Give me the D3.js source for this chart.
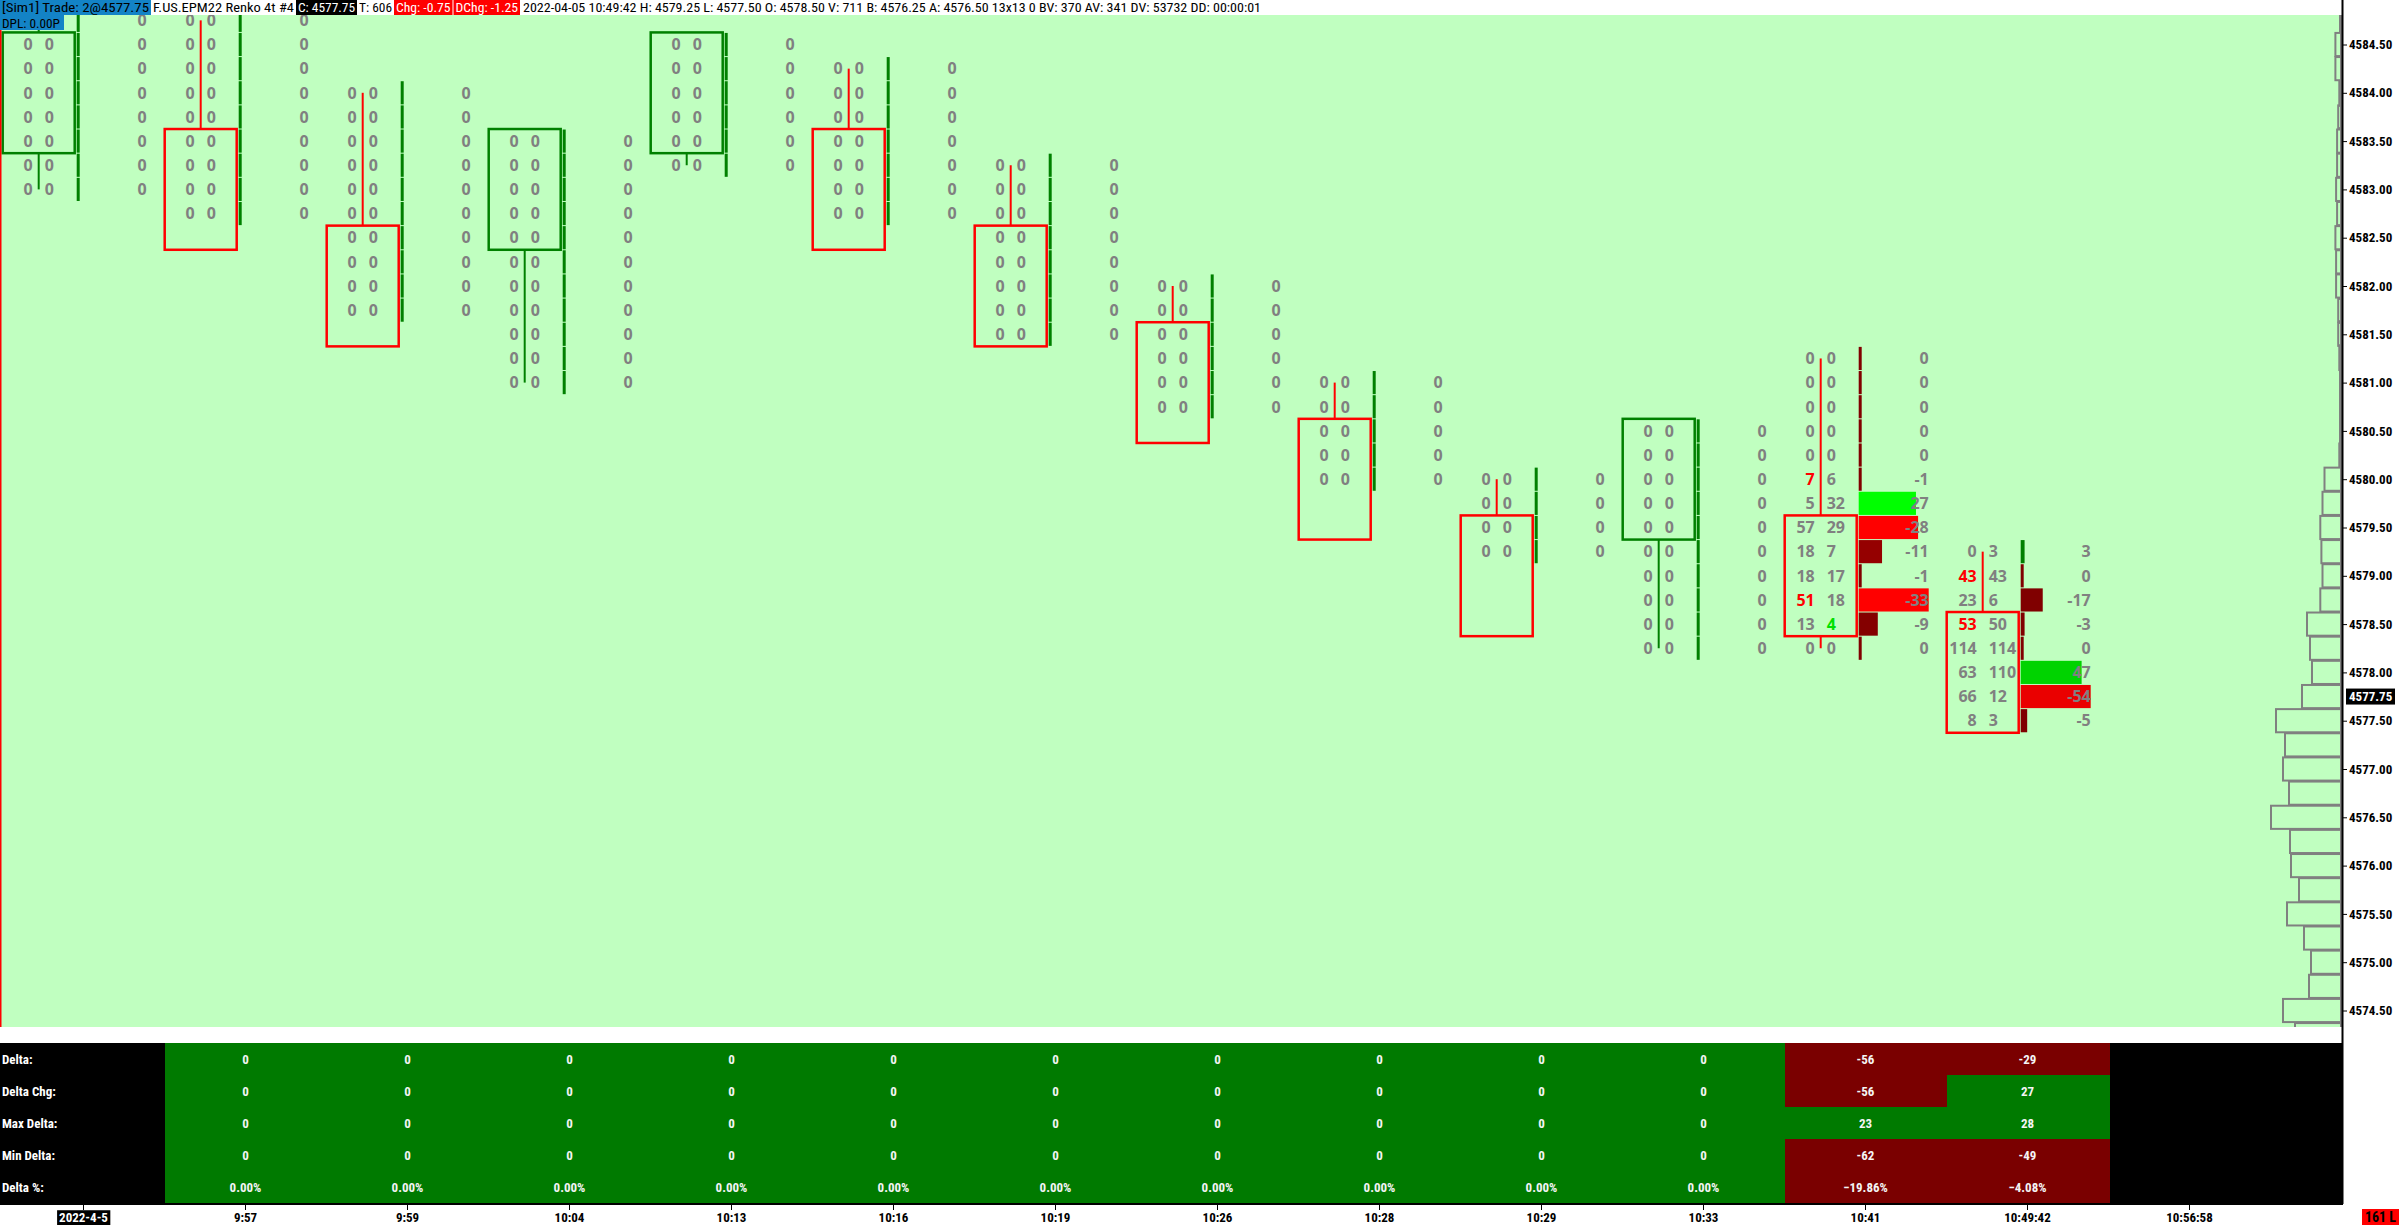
<!DOCTYPE html>
<html>
<head>
<meta charset="utf-8">
<script src="https://cdn.jsdelivr.net/npm/d3@7"></script>
<style>
  html, body { margin: 0; padding: 0; background: #fff; }
  svg { display: block; }
  .num { font-family: "Open Sans", "Liberation Sans", sans-serif; font-weight: 700; font-size: 16px; }
  .lbl { font-family: "Liberation Sans Narrow", "Roboto Condensed", "Liberation Sans", sans-serif; font-weight: 700; font-size: 13px; }
  .hdr { font-family: "Liberation Sans Narrow", "Roboto Condensed", "Liberation Sans", sans-serif; font-size: 13px; }
</style>
</head>
<body>
<div id="chart"></div>
<script>
// ---- data ----
var barLabels = ["2022-4-5", "9:57", "9:59", "10:04", "10:13", "10:16", "10:19", "10:26", "10:28", "10:29", "10:33", "10:41", "10:49:42", "10:56:58"];

var barHigh  = [4584.75, 4584.75, 4584.00, 4583.50, 4584.50, 4584.25, 4583.25, 4582.00, 4581.00, 4580.00, 4580.50, 4581.25, 4579.25];
var barLow   = [4583.00, 4582.75, 4581.75, 4581.00, 4583.25, 4582.75, 4581.50, 4580.75, 4580.00, 4579.25, 4578.25, 4578.25, 4577.50];
var barOpen  = [4583.50, 4583.50, 4582.50, 4582.50, 4583.50, 4583.50, 4582.50, 4581.50, 4580.50, 4579.50, 4579.50, 4579.50, 4578.50];
var barClose = [4584.50, 4582.50, 4581.50, 4583.50, 4584.50, 4582.50, 4581.50, 4580.50, 4579.50, 4578.50, 4580.50, 4578.50, 4577.50];

// bid / ask volume per price row, from high down to low
var barBid = [
  [0, 0, 0, 0, 0, 0, 0, 0],
  [0, 0, 0, 0, 0, 0, 0, 0, 0],
  [0, 0, 0, 0, 0, 0, 0, 0, 0, 0],
  [0, 0, 0, 0, 0, 0, 0, 0, 0, 0, 0],
  [0, 0, 0, 0, 0, 0],
  [0, 0, 0, 0, 0, 0, 0],
  [0, 0, 0, 0, 0, 0, 0, 0],
  [0, 0, 0, 0, 0, 0],
  [0, 0, 0, 0, 0],
  [0, 0, 0, 0],
  [0, 0, 0, 0, 0, 0, 0, 0, 0, 0],
  [0, 0, 0, 0, 0, 7, 5, 57, 18, 18, 51, 13, 0],
  [0, 43, 23, 53, 114, 63, 66, 8]
];
var barAsk = [
  [0, 0, 0, 0, 0, 0, 0, 0],
  [0, 0, 0, 0, 0, 0, 0, 0, 0],
  [0, 0, 0, 0, 0, 0, 0, 0, 0, 0],
  [0, 0, 0, 0, 0, 0, 0, 0, 0, 0, 0],
  [0, 0, 0, 0, 0, 0],
  [0, 0, 0, 0, 0, 0, 0],
  [0, 0, 0, 0, 0, 0, 0, 0],
  [0, 0, 0, 0, 0, 0],
  [0, 0, 0, 0, 0],
  [0, 0, 0, 0],
  [0, 0, 0, 0, 0, 0, 0, 0, 0, 0],
  [0, 0, 0, 0, 0, 6, 32, 29, 7, 17, 18, 4, 0],
  [3, 43, 6, 50, 114, 110, 12, 3]
];

// study table, bars 2..13 (first column holds the row names)
var tableNames = ["Delta:", "Delta Chg:", "Max Delta:", "Min Delta:", "Delta %:"];
var maxDelta = [0, 0, 0, 0, 0, 0, 0, 0, 0, 0, 23, 28];
var minDelta = [0, 0, 0, 0, 0, 0, 0, 0, 0, 0, -62, -49];

// session volume profile on the right edge, 4584.75 down to 4574.25
var profileTop = 4584.75;
var profileVol = [10, 56, 56, 17, 28, 39, 39, 49, 39, 56, 49, 49, 28, 28, 17, 10, 10, 10, 17,
  165, 185, 207, 196, 185, 207, 340, 310, 290, 390, 650, 560, 580, 520, 700, 510, 500,
  420, 540, 370, 300, 320, 580, 460];

var priceTicks = d3.range(4574.5, 4584.51, 0.5);
var lastPrice = 4577.75;

// ---- layout ----
var width = 2400, height = 1225;
var plotTop = 15, plotBottom = 1027, plotRight = 2342;
var tableTop = 1043, tableRowH = 32;
var axisY = 1204;
var tickSize = 0.25;
var dplBox = {w: 64, h: 30};   // "DPL" tag sits over the top-left corner of the plot

var svg = d3.select("#chart").append("svg")
  .attr("width", width)
  .attr("height", height);

var y = d3.scaleLinear().domain([4574.5, 4584.5]).range([1010.5, 44.5]);
var rowH = y(4574.5) - y(4574.75);

var x = d3.scaleBand().domain(barLabels).range([2.5, 2.5 + 162 * barLabels.length]);

/* plot background */
svg.append("rect")
  .attr("x", 0).attr("y", plotTop)
  .attr("width", plotRight).attr("height", plotBottom - plotTop)
  .attr("fill", "#c0ffc0");

svg.append("clipPath").attr("id", "plotclip")
  .append("rect")
  .attr("x", 0).attr("y", plotTop)
  .attr("width", plotRight).attr("height", plotBottom - plotTop);

var plot = svg.append("g").attr("clip-path", "url(#plotclip)");

/* volume profile at right */
var vScale = d3.scaleLinear().domain([0, d3.max(profileVol)]).range([0, 70]);
plot.append("g").selectAll("rect")
  .data(profileVol).enter()
  .append("rect")
  .attr("x", d => plotRight - 1 - vScale(d))
  .attr("y", (d, i) => y(profileTop - i * tickSize) - rowH / 2 + 0.5)
  .attr("width", d => vScale(d))
  .attr("height", rowH - 1)
  .attr("fill", "#c0ffc0")
  .attr("stroke", "#808080")
  .attr("stroke-width", 2);

/* footprint bars */
var shade = d3.scaleLinear().domain([0.03, 0.085]).range([0, 1]).clamp(true);
var gray = "#808080";

barHigh.forEach(function(high, i) {
  var wick = x(barLabels[i]) + 36.2;
  var up = barClose[i] > barOpen[i];
  var col = up ? "#008000" : "#ff0000";
  var rows = barBid[i].map(function(b, j) {
    return {p: high - j * tickSize, bid: b, ask: barAsk[i][j], delta: barAsk[i][j] - b};
  });
  var vol = d3.sum(rows, r => r.bid + r.ask);
  var total = d3.sum(rows, r => r.delta);
  var maxAbs = d3.max(rows, r => Math.abs(r.delta));
  var g = plot.append("g");

  var boxTop = y(Math.max(barOpen[i], barClose[i])) - rowH / 2;
  var boxBot = y(Math.min(barOpen[i], barClose[i])) + rowH / 2;

  // wick outside the box only
  if (y(high) < boxTop)
    g.append("line").attr("x1", wick).attr("x2", wick)
      .attr("y1", y(high)).attr("y2", boxTop)
      .attr("stroke", col).attr("stroke-width", 2);
  if (y(barLow[i]) > boxBot)
    g.append("line").attr("x1", wick).attr("x2", wick)
      .attr("y1", boxBot).attr("y2", y(barLow[i]))
      .attr("stroke", col).attr("stroke-width", 2);

  g.append("rect")
    .attr("x", wick - 36).attr("y", boxTop)
    .attr("width", 72).attr("height", boxBot - boxTop)
    .attr("fill", "none").attr("stroke", col).attr("stroke-width", 2.5);

  // delta profile bars
  g.selectAll(".dp").data(rows).enter()
    .append("rect")
    .attr("x", wick + 38)
    .attr("y", r => y(r.p) - rowH / 2 + 0.5)
    .attr("height", rowH - 1)
    .attr("width", r => maxAbs > 0 ? Math.max(3, Math.abs(r.delta) / maxAbs * 70) : 3)
    .attr("fill", function(r) {
      var t = vol > 0 ? shade(Math.abs(r.delta) / vol) : 0;
      if (r.delta > 0) return d3.interpolateRgb("#008000", "#00ff00")(t);
      if (r.delta < 0) return d3.interpolateRgb("#800000", "#ff0000")(t);
      return total < 0 ? "#800000" : "#008000";
    });

  // bid x ask numbers (hidden where the DPL tag covers them), diagonal imbalance 3:1
  var shown = rows.map((r, j) => j).filter(j => !(y(rows[j].p) < dplBox.h && wick < dplBox.w));
  var cells = shown.map(j => Object.assign({j: j}, rows[j]));

  g.selectAll(".bid").data(cells).enter()
    .append("text").attr("class", "num")
    .attr("x", wick - 6).attr("y", r => y(r.p)).attr("dy", "0.36em")
    .attr("text-anchor", "end")
    .attr("fill", function(r) {
      if (r.j === 0 || r.bid === 0) return gray;
      return r.bid >= 3 * rows[r.j - 1].ask ? "#ff0000" : gray;
    })
    .text(r => r.bid);

  g.selectAll(".ask").data(cells).enter()
    .append("text").attr("class", "num")
    .attr("x", wick + 6).attr("y", r => y(r.p)).attr("dy", "0.36em")
    .attr("text-anchor", "start")
    .attr("fill", function(r) {
      if (r.j === rows.length - 1 || r.ask === 0) return gray;
      return r.ask >= 3 * rows[r.j + 1].bid ? "#00e000" : gray;
    })
    .text(r => r.ask);

  g.selectAll(".dl").data(rows).enter()
    .append("text").attr("class", "num")
    .attr("x", wick + 108).attr("y", r => y(r.p)).attr("dy", "0.36em")
    .attr("text-anchor", "end")
    .attr("fill", gray)
    .text(r => r.delta);
});

/* left red edge */
svg.append("line")
  .attr("x1", 0.75).attr("x2", 0.75).attr("y1", plotTop).attr("y2", plotBottom)
  .attr("stroke", "#ff0000").attr("stroke-width", 1.5);

/* price axis */
var yAxis = d3.axisRight(y).tickValues(priceTicks).tickSize(5).tickPadding(2)
  .tickFormat(d3.format(".2f"));
var ya = svg.append("g").attr("transform", `translate(${plotRight},0)`).call(yAxis);
ya.select(".domain").remove();
ya.selectAll("text").attr("class", "lbl").attr("fill", "#000").style("font-size", "13px");
ya.selectAll("line").attr("stroke", "#000");

svg.append("line")
  .attr("x1", plotRight + 0.5).attr("x2", plotRight + 0.5).attr("y1", 0).attr("y2", axisY)
  .attr("stroke", "#000").attr("stroke-width", 2);

svg.append("rect")
  .attr("x", plotRight + 4).attr("y", y(lastPrice) - 8)
  .attr("width", 49).attr("height", 16).attr("fill", "#000");
svg.append("text").attr("class", "lbl")
  .attr("x", plotRight + 7).attr("y", y(lastPrice)).attr("dy", "0.36em")
  .attr("fill", "#fff").text(d3.format(".2f")(lastPrice));

/* study table */
var table = svg.append("g").attr("shape-rendering", "crispEdges");
table.append("rect")
  .attr("x", 0).attr("y", tableTop)
  .attr("width", plotRight).attr("height", tableRowH * 5)
  .attr("fill", "#000");

var cols = barHigh.slice(1).map(function(h, k) {
  var i = k + 1;
  var delta = d3.sum(barAsk[i]) - d3.sum(barBid[i]);
  var prev = d3.sum(barAsk[i - 1]) - d3.sum(barBid[i - 1]);
  var vol = d3.sum(barAsk[i]) + d3.sum(barBid[i]);
  var pct = vol > 0 ? delta / vol * 100 : 0;
  return {label: barLabels[i], vals: [delta, delta - prev, maxDelta[k], minDelta[k], pct]};
});

cols.forEach(function(c) {
  c.vals.forEach(function(v, r) {
    table.append("rect")
      .attr("x", Math.round(x(c.label))).attr("y", tableTop + r * tableRowH)
      .attr("width", Math.round(x.bandwidth()) + 1).attr("height", tableRowH + 1)
      .attr("fill", v < 0 ? "#7a0000" : "#007a00");
  });
});
cols.forEach(function(c) {
  c.vals.forEach(function(v, r) {
    table.append("text").attr("class", "lbl")
      .attr("x", x(c.label) + x.bandwidth() / 2)
      .attr("y", tableTop + r * tableRowH + tableRowH / 2).attr("dy", "0.36em")
      .attr("text-anchor", "middle").attr("fill", "#f4f4f4")
      .text(r === 4 ? d3.format(".2f")(v) + "%" : v);
  });
});

tableNames.forEach(function(n, r) {
  table.append("text").attr("class", "lbl")
    .attr("x", 2).attr("y", tableTop + r * tableRowH + tableRowH / 2).attr("dy", "0.36em")
    .attr("fill", "#fff").text(n);
});

/* time axis */
var xAxis = d3.axisBottom(x).tickSize(6).tickPadding(3);
var xa = svg.append("g").attr("transform", `translate(0,${axisY})`).call(xAxis);
xa.select(".domain").remove();
xa.selectAll("line").attr("stroke", "#000");
xa.selectAll("text").attr("class", "lbl").attr("fill", "#000").style("font-size", "13px");
svg.append("line")
  .attr("x1", 0).attr("x2", plotRight + 1).attr("y1", axisY).attr("y2", axisY)
  .attr("stroke", "#000").attr("stroke-width", 2);

var first = xa.select(".tick text");
var fb = first.node().getBBox();
xa.select(".tick").insert("rect", "text")
  .attr("x", fb.x - 2).attr("y", fb.y).attr("width", fb.width + 4).attr("height", fb.height)
  .attr("fill", "#000");
first.attr("fill", "#fff");

svg.append("rect").attr("x", 2362).attr("y", 1209).attr("width", 37).attr("height", 16).attr("fill", "#ff0000");
svg.append("text").attr("class", "lbl").attr("x", 2380.5).attr("y", 1217).attr("dy", "0.36em")
  .attr("text-anchor", "middle").attr("fill", "#000").style("font-size", "14px").text("161 L");

/* header line */
var header = [
  {t: "[Sim1]  Trade: 2@4577.75", x0: 0, x1: 151, bg: "#1383c6", fg: "#000"},
  {t: "F.US.EPM22  Renko 4t  #4", x0: 151, x1: 296, bg: "#fff", fg: "#000"},
  {t: "C: 4577.75", x0: 296, x1: 357, bg: "#000", fg: "#fff"},
  {t: "T: 606", x0: 357, x1: 394, bg: "#fff", fg: "#000"},
  {t: "Chg: -0.75", x0: 394, x1: 452.5, bg: "#ff0000", fg: "#fff"},
  {t: "DChg: -1.25", x0: 453.5, x1: 520, bg: "#ff0000", fg: "#fff"},
  {t: "2022-04-05 10:49:42 H: 4579.25 L: 4577.50 O: 4578.50 V: 711 B: 4576.25 A: 4576.50 13x13 0 BV: 370 AV: 341 DV: 53732 DD: 00:00:01", x0: 521, x1: 1263, bg: "#fff", fg: "#000"}
];
var hg = svg.append("g");
header.forEach(function(h) {
  hg.append("rect").attr("x", h.x0).attr("y", 0).attr("width", h.x1 - h.x0).attr("height", 15).attr("fill", h.bg);
  hg.append("text").attr("class", "hdr")
    .attr("x", h.x0 + 2).attr("y", 12)
    .attr("textLength", h.x1 - h.x0 - 4).attr("lengthAdjust", "spacingAndGlyphs")
    .attr("fill", h.fg).text(h.t);
});
hg.append("rect").attr("x", 0).attr("y", 15).attr("width", dplBox.w).attr("height", 15).attr("fill", "#1383c6");
hg.append("text").attr("class", "hdr").attr("x", 2).attr("y", 27.5)
  .attr("textLength", 58).attr("lengthAdjust", "spacingAndGlyphs")
  .attr("fill", "#000").text("DPL: 0.00P");
</script>
</body>
</html>
